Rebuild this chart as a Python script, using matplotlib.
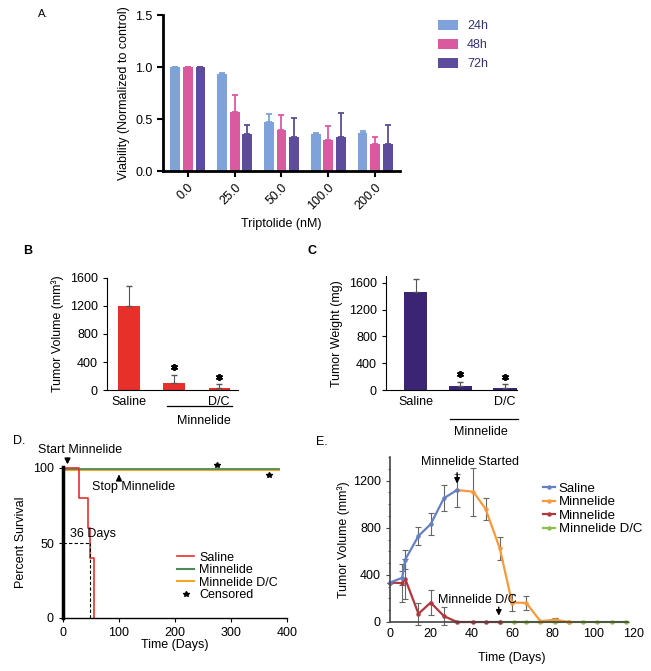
import matplotlib
matplotlib.use('Agg')
import matplotlib.pyplot as plt
import numpy as np
from matplotlib.lines import Line2D

plt.rcParams['font.family'] = ['Liberation Sans', 'DejaVu Sans']
plt.rcParams['font.size'] = 9

# ---------------- Panel A data ----------------
conc_labels = ['0.0', '25.0', '50.0', '100.0', '200.0']
a_series = ['24h', '48h', '72h']
via_24 = [1.00, 0.93, 0.47, 0.36, 0.37]
via_48 = [1.00, 0.57, 0.39, 0.30, 0.26]
via_72 = [1.00, 0.36, 0.33, 0.33, 0.26]
err_24 = [0.0, 0.01, 0.08, 0.01, 0.01]
err_48 = [0.0, 0.16, 0.15, 0.13, 0.07]
err_72 = [0.0, 0.08, 0.18, 0.23, 0.18]

# ---------------- Panel B / C data ----------------
bc_labels = ['Saline', '', 'D/C']
vol_mean = [1200, 105, 25]
vol_err = [280, 110, 55]
wt_mean = [1470, 60, 25]
wt_err = [190, 65, 60]

# ---------------- Panel D data ----------------
sal_t = [0, 28, 45, 48, 56]
sal_s = [100, 80, 60, 40, 0]
minn_t = [0, 385]
minn_s = [99.5, 99.5]
dc_t = [0, 385]
dc_s = [98.5, 98.5]
cens_t = [275, 368]
cens_s = [102, 95.5]
median_day = 48

# ---------------- Panel E data ----------------
e_sal_d = [0, 6, 7.5, 14, 20, 26.5, 33]
e_sal_v = [335, 375, 530, 730, 830, 1050, 1120]
e_sal_e = [0, 60, 80, 80, 95, 110, 140]
e_min_d = [33, 41, 47, 54, 60, 67, 74, 81, 88]
e_min_v = [1120, 1105, 960, 625, 165, 162, 6, 20, 0]
e_min_e = [0, 205, 95, 95, 70, 60, 5, 10, 0]
e_min2_d = [0, 6, 7.5, 14, 20, 26.5, 33, 41, 47, 54]
e_min2_v = [335, 330, 365, 70, 165, 50, 0, 0, 0, 0]
e_min2_e = [0, 160, 170, 95, 105, 75, 0, 0, 0, 0]
e_dc_d = [54, 61, 67, 74, 81, 88, 95, 102, 109, 116]
e_dc_v = [0, 0, 0, 0, 0, 0, 0, 0, 0, 0]

W, H = 651, 671
fig = plt.figure(figsize=(W / 100, H / 100), dpi=100)


def rect(x0, y0, x1, y1):
    return [x0 / W, 1 - y1 / H, (x1 - x0) / W, (y1 - y0) / H]


# ================= Panel A =================
axA = fig.add_axes(rect(163, 15, 400, 171))
colA = ['#7ea2d9', '#d95a9f', '#5c4c9b']
x = np.arange(len(conc_labels))
for k, (vals, errs, c, lab) in enumerate(zip([via_24, via_48, via_72],
                                              [err_24, err_48, err_72],
                                              colA, a_series)):
    xp = x + (k - 1) * 0.27
    axA.bar(xp, vals, width=0.21, color=c, label=lab)
    axA.errorbar(xp, vals, yerr=[np.zeros(len(vals)), errs], fmt='none',
                 ecolor=c, elinewidth=1.3, capsize=2.5, capthick=1.3)
axA.set_xlim(-0.53, 4.53)
axA.set_ylim(0, 1.5)
axA.set_yticks([0, 0.5, 1.0, 1.5])
axA.set_yticklabels(['0.0', '0.5', '1.0', '1.5'])
axA.set_xticks(x)
axA.set_xticklabels(conc_labels, rotation=45, ha='right', rotation_mode='anchor')
for s in ['top', 'right']:
    axA.spines[s].set_visible(False)
for s in ['left', 'bottom']:
    axA.spines[s].set_linewidth(2)
axA.tick_params(width=1.5, length=4)
axA.set_ylabel('Viability (Normalized to control)')
axA.set_xlabel('Triptolide (nM)', labelpad=4)
leg = axA.legend(loc='upper left', bbox_to_anchor=(432 / W, 1 - 14 / H),
                 bbox_transform=fig.transFigure, frameon=False,
                 handlelength=1.6, handleheight=0.8, labelspacing=0.55,
                 handletextpad=0.7, borderpad=0, fontsize=9)
for t in leg.get_texts():
    t.set_color('#34346e')

# ================= Panel B =================
axB = fig.add_axes(rect(107, 278, 238, 390))
xb = np.arange(3)
axB.bar(xb, vol_mean, width=0.47, color='#e8302a')
axB.errorbar(xb, vol_mean, yerr=[np.zeros(3), vol_err], fmt='none',
             ecolor='#555555', elinewidth=0.8, capsize=2.5)
axB.plot(xb[1:], [vol_mean[i] + vol_err[i] + 110 for i in (1, 2)], ls='none',
         marker=(6, 2, 0), ms=5, mew=1.3, color='black')
axB.set_xlim(-0.49, 2.42)
axB.set_ylim(0, 1600)
axB.set_yticks([0, 400, 800, 1200, 1600])
axB.set_xticks(xb)
axB.set_xticklabels(bc_labels)
axB.tick_params(axis='x', length=0, pad=4)
axB.tick_params(axis='y', length=3)
for s in ['top', 'right']:
    axB.spines[s].set_visible(False)
axB.set_ylabel('Tumor Volume (mm³)')
axB.plot([0.84, 2.29], [-0.143, -0.143], transform=axB.get_xaxis_transform(),
         color='black', lw=0.9, clip_on=False)
axB.text(1.66, -0.28, 'Minnelide', transform=axB.get_xaxis_transform(),
         ha='center', va='center')

# ================= Panel C =================
axC = fig.add_axes(rect(386, 276.3, 517, 390))
axC.bar(xb, wt_mean, width=0.52, color='#3b2473')
axC.errorbar(xb, wt_mean, yerr=[np.zeros(3), wt_err], fmt='none',
             ecolor='#555555', elinewidth=0.8, capsize=2.5)
axC.plot(xb[1:], [wt_mean[i] + wt_err[i] + 115 for i in (1, 2)], ls='none',
         marker=(6, 2, 0), ms=5, mew=1.3, color='black')
axC.set_xlim(-0.67, 2.27)
axC.set_ylim(0, 1700)
axC.set_yticks([0, 400, 800, 1200, 1600])
axC.set_xticks(xb)
axC.set_xticklabels(bc_labels)
axC.tick_params(axis='x', length=0, pad=4)
axC.tick_params(axis='y', length=3)
for s in ['top', 'right']:
    axC.spines[s].set_visible(False)
axC.set_ylabel('Tumor Weight (mg)')
axC.plot([0.77, 2.29], [-0.255, -0.255], transform=axC.get_xaxis_transform(),
         color='black', lw=0.9, clip_on=False)
axC.text(1.46, -0.37, 'Minnelide', transform=axC.get_xaxis_transform(),
         ha='center', va='center')

# ================= Panel D =================
axD = fig.add_axes(rect(63, 466.5, 287, 618))
axD.plot(dc_t, dc_s, color='#f5a623', lw=1.5, label='Minnelide D/C')
axD.plot(minn_t, minn_s, color='#4e8a56', lw=1.3, label='Minnelide')
axD.step(sal_t, sal_s, where='post', color='#e8302a', lw=1.2, label='Saline')
axD.plot(cens_t, cens_s, ls='none', marker='*', ms=4, color='black',
         label='Censored', clip_on=False)
axD.plot([0, median_day], [50, 50], 'k--', lw=0.8, dashes=(3, 2))
axD.plot([median_day, median_day], [0, 50], 'k--', lw=0.8, dashes=(3, 2))
axD.text(12.5, 56, '36 Days', ha='left', va='center')
axD.annotate('', xy=(8, 100.5), xytext=(8, 108), annotation_clip=False,
             arrowprops=dict(arrowstyle='-|>', color='black', lw=1.2,
                             mutation_scale=8))
axD.text(30, 112, 'Start Minnelide', ha='center', va='center')
axD.annotate('', xy=(100, 97.5), xytext=(100, 91.5),
             arrowprops=dict(arrowstyle='-|>', color='black', lw=1.2,
                             mutation_scale=8))
axD.text(52, 87.5, 'Stop Minnelide', ha='left', va='center')
axD.set_xlim(0, 400)
axD.set_ylim(0, 101)
axD.set_xticks([0, 100, 200, 300, 400])
axD.set_yticks([0, 50, 100])
for s in ['top', 'right']:
    axD.spines[s].set_visible(False)
axD.spines['left'].set_linewidth(2.5)
axD.spines['bottom'].set_linewidth(1.0)
axD.tick_params(length=3)
axD.set_ylabel('Percent Survival')
axD.set_xlabel('Time (Days)', labelpad=0)
hD = [Line2D([], [], color='#e8302a', lw=1.2),
      Line2D([], [], color='#4e8a56', lw=1.5),
      Line2D([], [], color='#f5a623', lw=1.5),
      Line2D([], [], ls='none', marker='*', ms=4, color='black')]
axD.legend(hD, ['Saline', 'Minnelide', 'Minnelide D/C', 'Censored'],
           loc='upper left', bbox_to_anchor=(0.48, 0.48), frameon=False,
           handlelength=1.4, labelspacing=0.05, handletextpad=0.4,
           borderpad=0, fontsize=9)

# ================= Panel E =================
axE = fig.add_axes(rect(390, 457, 634, 622))
cE = {'sal': '#6680c4', 'min': '#f79a3e', 'min2': '#b0383c', 'dc': '#8cc04a'}
ekw = dict(ecolor='#666666', elinewidth=0.8, capsize=2, capthick=0.8,
           marker='o', ms=2.2, lw=1.6)
axE.errorbar(e_dc_d, e_dc_v, yerr=np.zeros(len(e_dc_d)), color=cE['dc'],
             clip_on=False, **ekw)
axE.errorbar(e_min2_d, e_min2_v, yerr=e_min2_e, color=cE['min2'],
             clip_on=False, **ekw)
axE.errorbar(e_min_d, e_min_v, yerr=e_min_e, color=cE['min'],
             clip_on=False, **ekw)
axE.errorbar(e_sal_d, e_sal_v, yerr=e_sal_e, color=cE['sal'],
             clip_on=False, **ekw)
axE.annotate('', xy=(33, 1150), xytext=(33, 1290),
             arrowprops=dict(arrowstyle='-|>', color='black', lw=1,
                             mutation_scale=8))
axE.text(39.3, 1355, 'Minnelide Started', ha='center', va='center')
axE.annotate('', xy=(53.5, 30), xytext=(53.5, 150),
             arrowprops=dict(arrowstyle='-|>', color='black', lw=1,
                             mutation_scale=8))
axE.text(42.8, 190, 'Minnelide D/C', ha='center', va='center')
axE.set_xlim(0, 120)
axE.set_ylim(0, 1400)
axE.set_xticks([0, 20, 40, 60, 80, 100, 120])
axE.set_yticks([0, 400, 800, 1200])
axE.set_yticks(np.arange(0, 1401, 100), minor=True)
for s in ['top', 'right']:
    axE.spines[s].set_visible(False)
for s in ['left', 'bottom']:
    axE.spines[s].set_color('#444444')
    axE.spines[s].set_linewidth(1.2)
axE.spines['bottom'].set_bounds(0, 117)
axE.tick_params(axis='y', length=3, color='#444444')
axE.tick_params(axis='y', which='minor', length=1.5, color='#444444')
axE.tick_params(axis='x', length=0, pad=4)
axE.set_ylabel('Tumor Volume (mm³)', labelpad=2)
axE.set_xlabel('Time (Days)', labelpad=9)
hE = [Line2D([], [], color=cE[k], lw=1.6, marker='o', ms=2.2)
      for k in ['sal', 'min', 'min2', 'dc']]
axE.legend(hE, ['Saline', 'Minnelide', 'Minnelide', 'Minnelide D/C'],
           loc='upper left', bbox_to_anchor=(0.6, 0.885), frameon=False,
           handlelength=0.9, labelspacing=0.1, handletextpad=0.3,
           borderpad=0, fontsize=9.5)

# ---------------- panel letters ----------------
fig.text(38 / W, 1 - 14 / H, 'A.', fontsize=8, va='center')
fig.text(23 / W, 1 - 251 / H, 'B', fontsize=9, fontweight='bold', va='center')
fig.text(307 / W, 1 - 251 / H, 'C', fontsize=9, fontweight='bold', va='center')
fig.text(13 / W, 1 - 441 / H, 'D.', fontsize=9, va='center')
fig.text(316 / W, 1 - 442 / H, 'E.', fontsize=9, va='center')

fig.savefig('out.png', dpi=100)
